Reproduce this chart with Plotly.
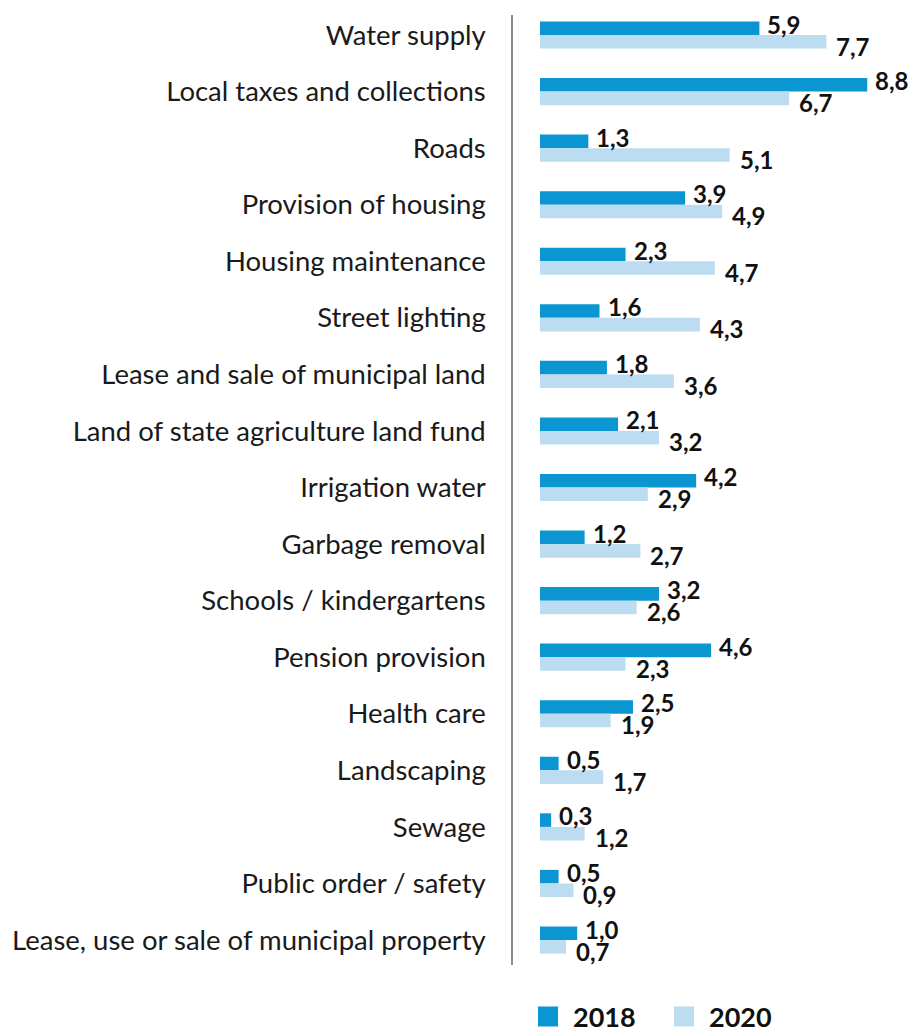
import plotly.graph_objects as go

categories = [
    "Water supply",
    "Local taxes and collections",
    "Roads",
    "Provision of housing",
    "Housing maintenance",
    "Street lighting",
    "Lease and sale of municipal land",
    "Land of state agriculture land fund",
    "Irrigation water",
    "Garbage removal",
    "Schools / kindergartens",
    "Pension provision",
    "Health care",
    "Landscaping",
    "Sewage",
    "Public order / safety",
    "Lease, use or sale of municipal property",
]
values_2018 = [5.9, 8.8, 1.3, 3.9, 2.3, 1.6, 1.8, 2.1, 4.2, 1.2, 3.2, 4.6, 2.5, 0.5, 0.3, 0.5, 1.0]
values_2020 = [7.7, 6.7, 5.1, 4.9, 4.7, 4.3, 3.6, 3.2, 2.9, 2.7, 2.6, 2.3, 1.9, 1.7, 1.2, 0.9, 0.7]

c2018 = "#0B96D2"
c2020 = "#BCDDF1"

fig = go.Figure()
fig.add_trace(go.Bar(y=categories, x=values_2018, orientation="h", name="2018",
                     marker=dict(color=c2018, line=dict(width=0)), showlegend=False))
fig.add_trace(go.Bar(y=categories, x=values_2020, orientation="h", name="2020",
                     marker=dict(color=c2020, line=dict(width=0)), showlegend=False))

# legend-only entries with big square swatches
for name, col in [("2018", c2018), ("2020", c2020)]:
    fig.add_trace(go.Scatter(x=[None], y=[None], mode="markers", name=name,
                             marker=dict(symbol="square", size=24, color=col,
                                         line=dict(color=col, width=4))))


def fmt(v):
    return f"{v:.1f}".replace(".", ",")


# value labels, offset above / below the group centre
label_font = dict(family="Lato", size=24, color="#111111", weight="bold")
annotations = []
for cat, v in zip(categories, values_2018):
    annotations.append(dict(x=v, y=cat, text=fmt(v), xanchor="left", yanchor="middle",
                            xshift=6, yshift=11, showarrow=False, font=label_font))
for cat, v in zip(categories, values_2020):
    annotations.append(dict(x=v, y=cat, text=fmt(v), xanchor="left", yanchor="middle",
                            xshift=8, yshift=-11, showarrow=False, font=label_font))

fig.update_layout(
    width=913,
    height=1034,
    margin=dict(l=513, r=0, t=15, b=69, autoexpand=False),
    barmode="group",
    bargap=0.52,
    bargroupgap=0,
    plot_bgcolor="white",
    paper_bgcolor="white",
    font=dict(family="Lato", size=27, color="#1a1a1a"),
    annotations=annotations,
    showlegend=True,
    legend=dict(orientation="h", x=0.025, xanchor="left", y=-0.029, yanchor="top",
                font=dict(family="Lato", size=27, color="#111111", weight="bold"),
                itemwidth=40, traceorder="normal", entrywidth=81),
)
fig.update_xaxes(range=[-0.726, 10.03], visible=False, showgrid=False, zeroline=False)
fig.update_yaxes(range=[16.442, -0.354], showline=True, linecolor="#8c8c8c", linewidth=1.5,
                 showgrid=False, ticks="", ticklabelstandoff=20,
                 tickfont=dict(family="Lato", size=27.5, color="#1a1a1a"))

# drop the default page margin so the figure fills the window exactly
fig.write_html("out.html", config={"displayModeBar": False},
               post_script="document.body.style.margin = '0';")
